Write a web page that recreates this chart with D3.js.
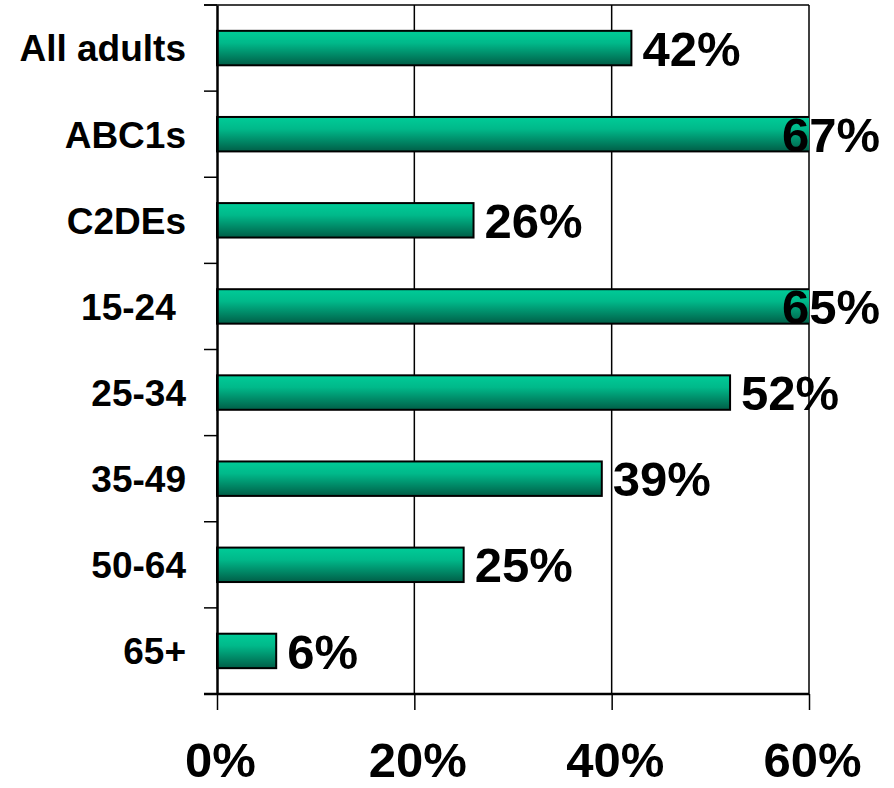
<!DOCTYPE html>
<html><head><meta charset="utf-8">
<script src="https://cdn.jsdelivr.net/npm/d3@7/dist/d3.min.js"></script>
<style>body{margin:0;background:#fff}svg{display:block}</style>
</head><body>
<svg id="c" width="894" height="788"></svg>
<script>
const categories = ["All adults","ABC1s","C2DEs","15-24 ","25-34","35-49","50-64","65+"];
const values = [42,67,26,65,52,39,25,6];
const tickValues = [0,20,40,60];
const tickLabels = ["0%","20%","40%","60%"];

const svg = d3.select("#c");
const L = 217, R = 809, T = 5, B = 694;
const x = d3.scaleLinear().domain([0,60]).range([L,R]);
const y = d3.scaleBand().domain(categories).range([T,B]).paddingInner(0.6).paddingOuter(0.3);
const font = "'Liberation Sans', Arial, sans-serif";

const defs = svg.append("defs");
const g = defs.append("linearGradient").attr("id","bg").attr("x1",0).attr("y1",0).attr("x2",0).attr("y2",1);
g.append("stop").attr("offset","0%").attr("stop-color","#00cc98");
g.append("stop").attr("offset","35%").attr("stop-color","#00b98a");
g.append("stop").attr("offset","100%").attr("stop-color","#005e47");
defs.append("clipPath").attr("id","clip").append("rect")
  .attr("x",L-2).attr("y",T).attr("width",R-L+2).attr("height",B-T);

// gridlines
svg.append("g").selectAll("line").data(tickValues.slice(1)).join("line")
  .attr("x1",d=>x(d)).attr("x2",d=>x(d)).attr("y1",T).attr("y2",B)
  .attr("stroke","#000").attr("stroke-width",1.5);
// top border
svg.append("line").attr("x1",L-13).attr("x2",R).attr("y1",T).attr("y2",T)
  .attr("stroke","#000").attr("stroke-width",1.5);

// bars
svg.append("g").attr("clip-path","url(#clip)").selectAll("rect").data(values).join("rect")
  .attr("x",x(0)).attr("y",(d,i)=>y(categories[i]))
  .attr("width",d=>x(d)-x(0)).attr("height",y.bandwidth())
  .attr("fill","url(#bg)").attr("stroke","#000").attr("stroke-width",2);

// left axis
const ya = d3.axisLeft(y).tickSize(0).tickFormat("");
svg.append("g").attr("transform",`translate(${L},0)`).call(ya).call(s=>s.select(".domain").attr("stroke-width",2.5));
// band boundary ticks
const bounds = d3.range(categories.length+1).map(i=>T + i*y.step());
svg.append("g").selectAll("line").data(bounds).join("line")
  .attr("x1",L-13).attr("x2",L).attr("y1",d=>d).attr("y2",d=>d)
  .attr("stroke","#000").attr("stroke-width",1.5);

// category labels
svg.append("g").selectAll("text").data(categories).join("text")
  .attr("x",186).attr("y",d=>y(d)+y.bandwidth()/2)
  .attr("dy","0.36em").attr("text-anchor","end")
  .style("white-space","pre")
  .attr("font-family",font).attr("font-weight","bold").attr("font-size",37)
  .text(d=>d);

// bottom axis
const xa = d3.axisBottom(x).tickValues(tickValues).tickSize(16).tickFormat((d,i)=>tickLabels[i]);
const xg = svg.append("g").attr("transform",`translate(0,${B})`).call(xa);
xg.select(".domain").remove();
xg.selectAll(".tick line").attr("stroke-width",1.5);
xg.selectAll(".tick text").attr("y",83).attr("dy",0).attr("x",3)
  .attr("font-family",font).attr("font-weight","bold").attr("font-size",49).attr("fill","#000");
svg.append("line").attr("x1",L-13).attr("x2",R).attr("y1",B).attr("y2",B)
  .attr("stroke","#000").attr("stroke-width",2.5);

// value labels
svg.append("g").selectAll("text").data(values).join("text")
  .attr("x",d=> d>60 ? 880 : x(d)+11)
  .attr("text-anchor",d=> d>60 ? "end" : "start")
  .attr("y",(d,i)=>y(categories[i])+y.bandwidth()/2)
  .attr("dy","0.36em")
  .attr("font-family",font).attr("font-weight","bold").attr("font-size",49)
  .text(d=>d+"%");
</script>
</body></html>
